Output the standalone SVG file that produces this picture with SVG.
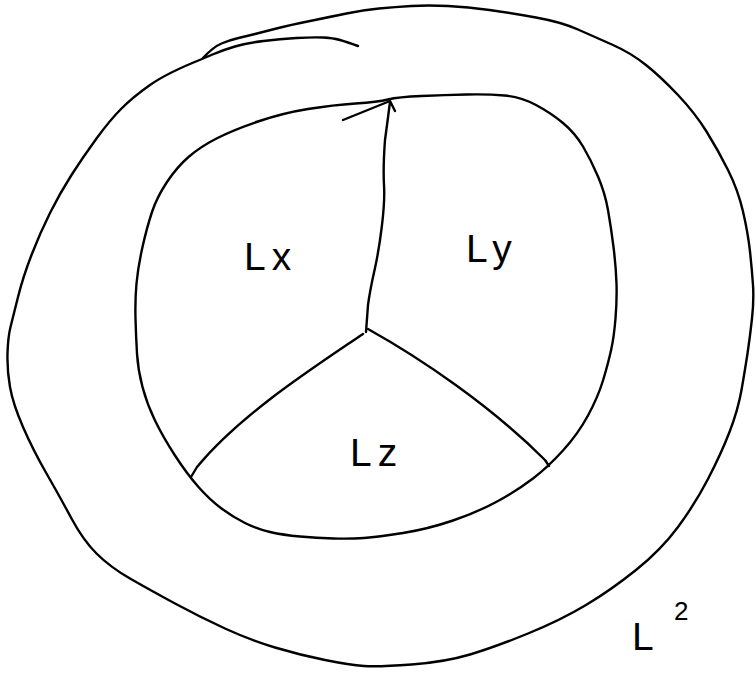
<svg xmlns="http://www.w3.org/2000/svg" width="756" height="674" viewBox="0 0 756 674">
<style>
.ln{fill:none;stroke:#000;stroke-width:2.4;stroke-linecap:round;stroke-linejoin:round}
.lbl{font-family:"Liberation Sans",Arial,sans-serif;font-size:39px;fill:#000;letter-spacing:6px}
.sup{font-family:"Liberation Sans",Arial,sans-serif;font-size:26px;fill:#000}
</style>
<rect width="756" height="674" fill="#fff"/>
<g id="outer-L2">
<path class="ln" d="M358,46 Q347,42 340,40 Q333,38 323,37.5 Q313,37 296.5,38 Q280,39 263.5,41 Q247,43 235,46.5 Q223,50 212.5,54.5 L202,59 Q167,73 150,85 Q133,97 121.5,108.5 Q110,120 96.5,138.5 Q83,157 71.5,175 Q60,193 50,213 Q40,233 31.5,255 Q23,277 18,297 Q13,317 10.5,327 Q8,337 7.5,353.5 Q7,370 10,387 Q13,404 23,427 Q33,450 46.5,473.5 Q60,497 71.5,518.5 Q83,540 96.5,553.5 Q110,567 130,578.5 Q150,590 175,603.5 Q200,617 225,628.5 Q250,640 275,647.5 Q300,655 325,660 Q350,665 364,666 Q378,667 411.5,664.5 Q445,662 470,654.5 Q495,647 528,633.5 Q561,620 586,605 Q611,590 636,570 Q661,550 678,527 Q695,504 708,479 Q721,454 729.5,432 Q738,410 741.5,390 Q745,370 747.5,353.5 Q750,337 752,318.5 Q754,300 753,285 Q752,270 750,251.5 Q748,233 743,211.5 Q738,190 728,170 Q718,150 706.5,131.5 Q695,113 678,95 Q661,77 646,65 Q631,53 613,45 Q595,37 578,29.5 Q561,22 536,17.5 Q511,13 489.5,10 Q468,7 448,6 Q428,5 411.5,6 Q395,7 379,8.5 Q363,10 346.5,13.5 Q330,17 310,21 Q290,25 276.5,28.5 Q263,32 255,34 Q247,36 238.5,38 Q230,40 221.5,43.5 Q213,47 202,59"/>
</g>
<g id="inner">
<path class="ln" d="M355.5,103.5 Q378,102 388,99.5 Q398,97 421.5,96 Q445,95 466.5,94.5 Q488,94 504.5,95.5 Q521,97 536,105 Q551,113 563,123 Q575,133 583,146.5 Q591,160 598,176.5 Q605,193 608,210 Q611,227 613.5,247 Q616,267 616.5,283.5 Q617,300 615.5,318.5 Q614,337 611,350.5 Q608,364 603,380.5 Q598,397 588,415.5 Q578,434 563,450.5 Q548,467 533,478.5 Q518,490 498,501 Q478,512 453,520.5 Q428,529 403,533 Q378,537 364,538 Q350,539 333.5,538.5 Q317,538 300,536.5 Q283,535 270,532 Q257,529 245,523 Q233,517 221.5,508.5 Q210,500 198.5,487 Q187,474 175,455.5 Q163,437 155,420.5 Q147,404 142.5,387 Q138,370 137,353.5 Q136,337 135.5,318.5 Q135,300 136.5,283.5 Q138,267 142.5,247 Q147,227 152,212 Q157,197 167,182 Q177,167 188.5,157 Q200,147 216.5,138.5 Q233,130 258,121.5 Q283,113 308,109 Q333,105 355.5,103.5 Z"/>
<path class="ln" d="M343,120 L390,101 L395,111"/>
</g>
<g id="connectors">
<path class="ln" d="M390,102 L387,125 L385,140 Q383,167 384,185 Q385,200 382,225 Q379,250 375,268 Q370,290 368,305 L366,332"/>
<path class="ln" d="M363,334 C310,370 240,415 197,467 L191,477"/>
<path class="ln" d="M368,329 C420,358 490,405 545,460 L549,466"/>
</g>
<g id="label-Lx"><text class="lbl" x="244" y="270">Lx</text></g>
<g id="label-Ly"><text class="lbl" x="466" y="262">Ly</text></g>
<g id="label-Lz"><text class="lbl" x="350" y="466">Lz</text></g>
<g id="label-L2"><text class="lbl" x="632" y="650">L</text><text class="sup" x="674" y="620">2</text></g>
</svg>
